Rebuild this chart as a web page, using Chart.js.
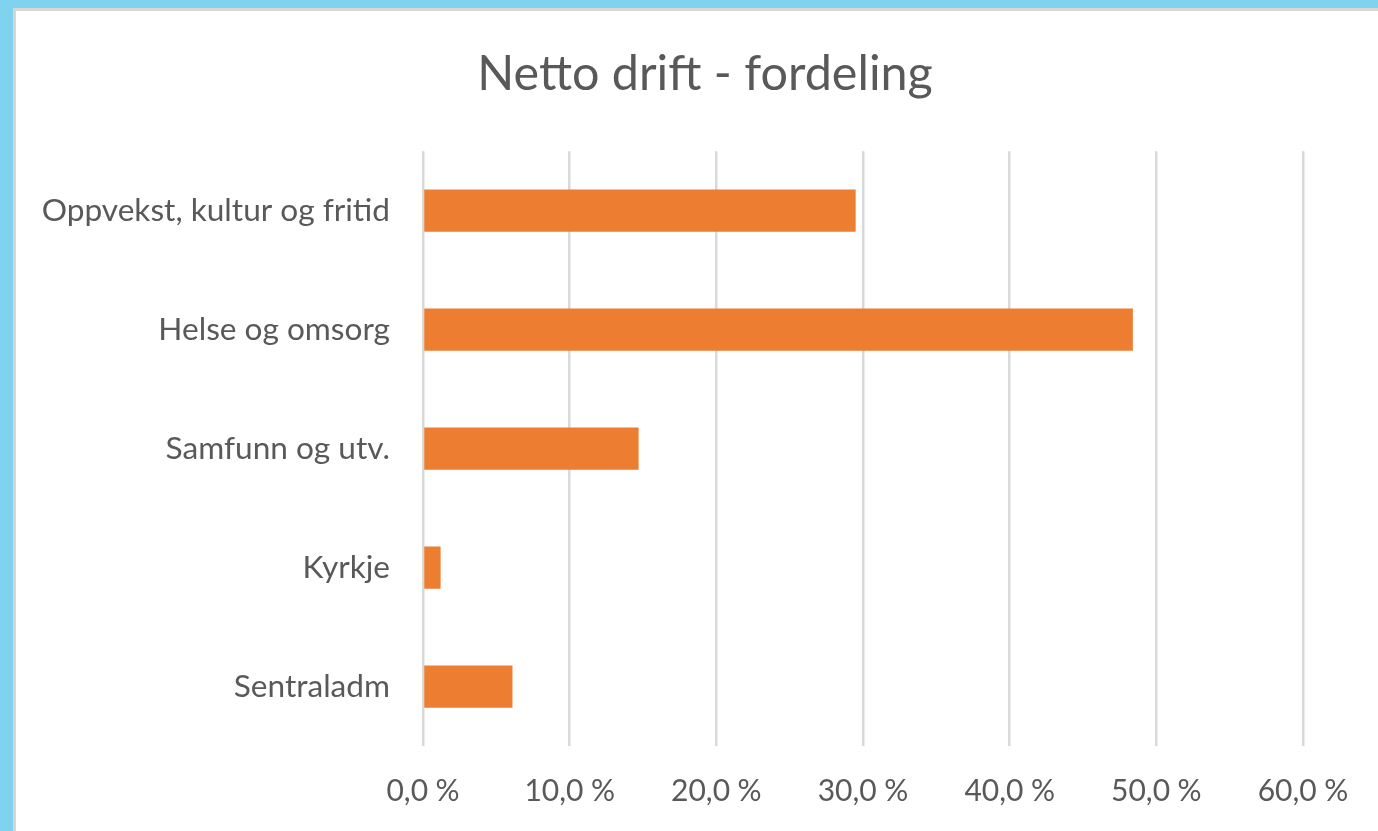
<!DOCTYPE html>
<html><head><meta charset="utf-8">
<script src="https://cdn.jsdelivr.net/npm/chart.js@4"></script>
<style>
html,body{margin:0;padding:0;width:1378px;height:831px;overflow:hidden;background:#7fd3ef}
#panel{position:absolute;left:13px;top:8px;width:1400px;height:823px;background:#fff;border-top:3px solid #d6d6d6;border-left:3px solid #d6d6d6}
#wrap{position:absolute;left:0;top:0;width:1378px;height:820px}
</style></head>
<body>
<div id="panel"><div id="wrap"><canvas id="c"></canvas></div></div>
<script>
const categories = ['Oppvekst, kultur og fritid', 'Helse og omsorg', 'Samfunn og utv.', 'Kyrkje', 'Sentraladm'];
const shares = [29.5, 48.4, 14.7, 1.2, 6.1];
const tickValues = [0, 10, 20, 30, 40, 50, 60];
const chartTitle = 'Netto drift - fordeling';

const textColor = '#595959';
new Chart(document.getElementById('c'), {
  type: 'bar',
  data: {
    labels: categories,
    datasets: [{
      data: shares,
      backgroundColor: '#ed7d31',
      borderWidth: 0,
      barPercentage: 0.355,
      categoryPercentage: 1.0
    }]
  },
  options: {
    indexAxis: 'y',
    responsive: true,
    maintainAspectRatio: false,
    animation: false,
    layout: { padding: 0 },
    plugins: {
      legend: { display: false },
      tooltip: { enabled: false },
      title: {
        display: true,
        text: chartTitle,
        color: textColor,
        font: { family: 'Lato', size: 48.5, weight: 'normal', lineHeight: 1.2 },
        padding: { top: 34, bottom: 48 }
      }
    },
    scales: {
      x: {
        min: tickValues[0],
        max: tickValues[tickValues.length - 1],
        afterBuildTicks(scale) { scale.ticks = tickValues.map(v => ({ value: v })); },
        afterFit(scale) { scale.height = 85; },
        border: { display: false },
        grid: { color: '#d9d9d9', lineWidth: 2.5, drawTicks: false },
        ticks: {
          color: textColor,
          padding: 27,
          font: { family: 'Lato', size: 30 },
          callback: v => v.toFixed(1).replace('.', ',') + '\u202F%'
        }
      },
      y: {
        afterFit(scale) { scale.width = 407; },
        border: { display: false },
        grid: { display: false, drawTicks: false },
        ticks: {
          color: textColor,
          padding: 33,
          font: { family: 'Lato', size: 31.6 }
        }
      },
      yRight: {
        type: 'linear',
        axis: 'y',
        position: 'right',
        afterFit(scale) { scale.width = 91; },
        border: { display: false },
        grid: { display: false, drawTicks: false },
        ticks: { display: false }
      }
    }
  }
});
</script></body></html>
